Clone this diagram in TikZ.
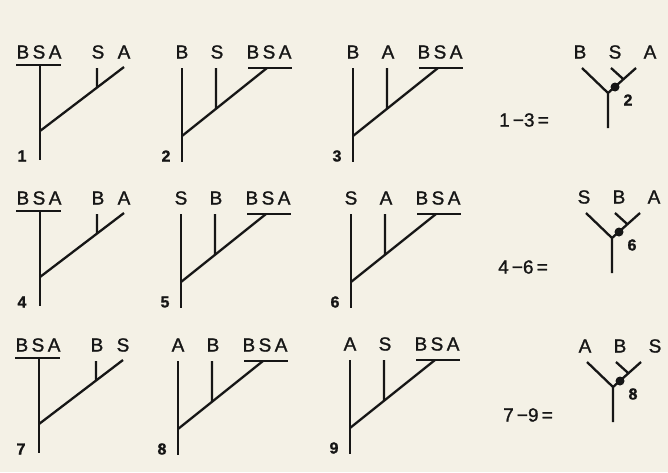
\documentclass[tikz,border=0pt]{standalone}
\usepackage{fontspec}
\setmainfont{Liberation Sans}[FakeBold=1.2]
\newfontfamily\labfont[LetterSpace=18,FakeBold=1.3]{Liberation Sans}
\usetikzlibrary{calc}
\definecolor{paper}{HTML}{F4F1E6}
\definecolor{ink}{HTML}{161616}
\tikzset{
  lab/.style  = {font=\labfont\fontsize{19}{18}\selectfont, text=ink, inner sep=0pt},
  num/.style  = {font=\bfseries\fontsize{16}{16}\selectfont, text=ink, inner sep=0pt},
  sub/.style  = {font=\bfseries\fontsize{16}{16}\selectfont, text=ink, inner sep=0pt},
  eqn/.style  = {font=\fontsize{19}{19}\selectfont, text=ink, inner sep=0pt},
  br/.style   = {draw=ink, line width=2.3pt},
  knot/.style = {circle, fill=ink, inner sep=0pt, minimum size=9pt},
}
% tree with the joint label on the left: name, x, y, labels, number
\newcommand{\ltree}[7]{%
  \begin{scope}[shift={(#2,#3)}]
    \node[lab] (#1l) at (-1,0) {#4};
    \node[lab] (#1m) at (58,0) {#5};
    \node[lab] (#1r) at (84,0) {#6};
    \node[num] (#1n) at (-18,104) {#7};
    \coordinate (#1b0) at (-24,13); \coordinate (#1b1) at (21,13);
    \coordinate (#1t) at (0,13);    \coordinate (#1f) at (0,108);
    \coordinate (#1k) at (0,79);    \coordinate (#1e) at (84,15);
    \coordinate (#1w) at (57,16);
  \end{scope}
  \coordinate (#1j) at ($(#1k)!57/84!(#1e)$);
  \draw[br] (#1b0) -- (#1b1);
  \draw[br] (#1t) -- (#1f);
  \draw[br] (#1k) -- (#1e);
  \draw[br] (#1w) -- (#1j);
}
% tree with the joint label on the right
\newcommand{\rtree}[7]{%
  \begin{scope}[shift={(#2,#3)}]
    \node[lab] (#1l) at (0,0) {#4};
    \node[lab] (#1m) at (35,0) {#5};
    \node[lab] (#1r) at (87,0) {#6};
    \node[num] (#1n) at (-16,104) {#7};
    \coordinate (#1b0) at (66,16); \coordinate (#1b1) at (110,16);
    \coordinate (#1t) at (0,16);   \coordinate (#1f) at (0,110);
    \coordinate (#1k) at (0,84);   \coordinate (#1e) at (85,16);
    \coordinate (#1w) at (34,16);
  \end{scope}
  \coordinate (#1j) at ($(#1k)!34/85!(#1e)$);
  \draw[br] (#1b0) -- (#1b1);
  \draw[br] (#1t) -- (#1f);
  \draw[br] (#1k) -- (#1e);
  \draw[br] (#1w) -- (#1j);
}
% the Y summary: name, junction x, y, labels, subscript
\newcommand{\ytree}[7]{%
  \begin{scope}[shift={(#2,#3)}]
    \node[lab] (#1l) at (-28,-41) {#4};
    \node[lab] (#1m) at (7,-41) {#5};
    \node[lab] (#1r) at (42,-41) {#6};
    \coordinate (#1c) at (0,0);
    \coordinate (#1a) at (-26,-25); \coordinate (#1d) at (28,-25);
    \coordinate (#1s) at (0,35);    \coordinate (#1w) at (3,-25);
    \node[knot] (#1p) at (7,-6) {};
    \node[sub] (#1n) at (20,7) {#7};
  \end{scope}
  \coordinate (#1j) at ($(#1c)!0.55!(#1d)$);
  \draw[br] (#1a) -- (#1c) -- (#1s);
  \draw[br] (#1c) -- (#1d);
  \draw[br] (#1w) -- (#1j);
}

\begin{document}
\begin{tikzpicture}[x=1pt, y=-1pt]
  \fill[paper] (0,0) rectangle (668,472);
  \useasboundingbox (0,0) rectangle (668,472);

  % first row
  \ltree{t1}{40}{52}{BSA}{S}{A}{1}
  \rtree{t2}{182}{52}{B}{S}{BSA}{2}
  \rtree{t3}{353}{52}{B}{A}{BSA}{3}
  \node[eqn] (e1) at (524,120) {1\,−3\,=};
  \ytree{y1}{608}{93}{B}{S}{A}{2}

  % second row
  \ltree{t4}{40}{198}{BSA}{B}{A}{4}
  \rtree{t5}{181}{198}{S}{B}{BSA}{5}
  \rtree{t6}{351}{198}{S}{A}{BSA}{6}
  \node[eqn] (e2) at (523,267) {4\,−6\,=};
  \ytree{y2}{612}{238}{S}{B}{A}{6}

  % third row
  \ltree{t7}{39}{345}{BSA}{B}{S}{7}
  \rtree{t8}{178}{345}{A}{B}{BSA}{8}
  \rtree{t9}{350}{344}{A}{S}{BSA}{9}
  \node[eqn] (e3) at (528,415) {7\,−9\,=};
  \ytree{y3}{613}{387}{A}{B}{S}{8}
\end{tikzpicture}
\end{document}
